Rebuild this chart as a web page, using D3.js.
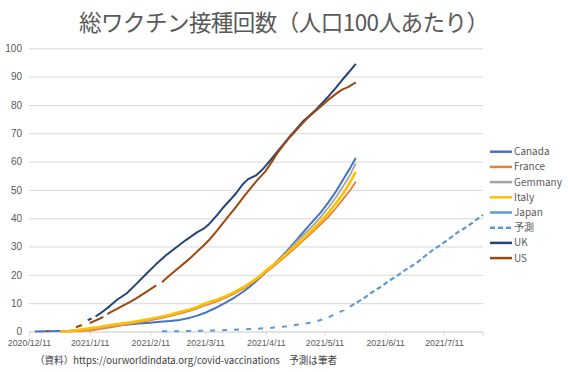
<!DOCTYPE html>
<html><head><meta charset="utf-8">
<script src="https://cdn.jsdelivr.net/npm/d3@7"></script>
<style>
html,body{margin:0;padding:0;background:#fff;}
svg{display:block;font-family:"Noto Sans CJK JP","Noto Sans",sans-serif;}
</style></head>
<body><svg id="c" width="568" height="372"></svg>
<script>
const title = "総ワクチン接種回数（人口100人あたり）";
const source = "（資料）https://ourworldindata.org/covid-vaccinations　予測は筆者";
const yTicks = [0,10,20,30,40,50,60,70,80,90,100];
const xTicks = ["2020-12-11","2021-01-11","2021-02-11","2021-03-11","2021-04-11","2021-05-11","2021-06-11","2021-07-11"];
const seriesNames = ["Canada","France","Gemmany","Italy","Japan","予測","UK","US"];
const seriesColors = ["#4472C4","#ED7D31","#A5A5A5","#FFC000","#5B9BD5","#5B9BD5","#264478","#9E480E"];

const canada = [["2020-12-14",0.0],["2020-12-20",0.1],["2020-12-26",0.2],["2021-01-01",0.3],["2021-01-06",0.5],["2021-01-11",0.8],["2021-01-16",1.3],["2021-01-21",1.8],["2021-01-26",2.2],["2021-01-31",2.5],["2021-02-05",2.8],["2021-02-11",3.1],["2021-02-16",3.4],["2021-02-21",3.7],["2021-02-26",4.1],["2021-03-03",4.8],["2021-03-07",5.6],["2021-03-11",6.6],["2021-03-16",8.2],["2021-03-21",10.0],["2021-03-26",12.0],["2021-03-31",14.3],["2021-04-04",16.5],["2021-04-08",19.0],["2021-04-11",21.0],["2021-04-15",23.6],["2021-04-19",26.4],["2021-04-23",29.3],["2021-04-27",32.5],["2021-05-01",35.8],["2021-05-05",38.9],["2021-05-09",42.0],["2021-05-13",45.6],["2021-05-17",49.6],["2021-05-21",54.2],["2021-05-24",57.6],["2021-05-27",61.3]];
const france = [["2020-12-27",0.0],["2020-12-31",0.0],["2021-01-05",0.1],["2021-01-11",0.3],["2021-01-16",0.8],["2021-01-21",1.4],["2021-01-26",2.0],["2021-01-31",2.6],["2021-02-05",3.2],["2021-02-11",3.9],["2021-02-16",4.6],["2021-02-21",5.4],["2021-02-26",6.3],["2021-03-03",7.3],["2021-03-07",8.2],["2021-03-11",9.2],["2021-03-16",10.4],["2021-03-21",11.8],["2021-03-26",13.4],["2021-03-31",15.3],["2021-04-04",17.1],["2021-04-08",19.1],["2021-04-11",20.9],["2021-04-15",23.0],["2021-04-19",25.3],["2021-04-23",27.7],["2021-04-27",30.2],["2021-05-01",32.7],["2021-05-05",35.2],["2021-05-09",37.8],["2021-05-13",40.5],["2021-05-17",43.7],["2021-05-21",47.2],["2021-05-24",49.8],["2021-05-27",52.9]];
const germany = [["2020-12-27",0.0],["2020-12-31",0.2],["2021-01-05",0.4],["2021-01-11",0.8],["2021-01-16",1.3],["2021-01-21",1.8],["2021-01-26",2.3],["2021-01-31",2.8],["2021-02-05",3.4],["2021-02-11",4.2],["2021-02-16",4.9],["2021-02-21",5.7],["2021-02-26",6.6],["2021-03-03",7.6],["2021-03-07",8.5],["2021-03-11",9.5],["2021-03-16",10.7],["2021-03-21",12.1],["2021-03-26",13.7],["2021-03-31",15.6],["2021-04-04",17.3],["2021-04-08",19.5],["2021-04-11",21.3],["2021-04-15",23.7],["2021-04-19",26.2],["2021-04-23",28.9],["2021-04-27",31.9],["2021-05-01",34.6],["2021-05-05",37.3],["2021-05-09",40.4],["2021-05-13",43.8],["2021-05-17",47.6],["2021-05-21",51.8],["2021-05-24",55.2],["2021-05-27",59.4]];
const italy = [["2020-12-27",0.0],["2020-12-31",0.1],["2021-01-05",0.5],["2021-01-11",1.1],["2021-01-16",1.6],["2021-01-21",2.2],["2021-01-26",2.7],["2021-01-31",3.2],["2021-02-05",3.7],["2021-02-11",4.5],["2021-02-16",5.1],["2021-02-21",5.9],["2021-02-26",6.9],["2021-03-03",7.8],["2021-03-07",8.7],["2021-03-11",9.9],["2021-03-16",11.0],["2021-03-21",12.3],["2021-03-26",13.9],["2021-03-31",15.8],["2021-04-04",17.6],["2021-04-08",19.6],["2021-04-11",21.5],["2021-04-15",23.6],["2021-04-19",25.9],["2021-04-23",28.3],["2021-04-27",30.8],["2021-05-01",33.4],["2021-05-05",36.0],["2021-05-09",38.8],["2021-05-13",41.9],["2021-05-17",45.4],["2021-05-21",49.3],["2021-05-24",52.6],["2021-05-27",56.4]];
const japan = [["2021-02-17",0.1],["2021-02-24",0.1],["2021-03-03",0.2],["2021-03-10",0.3],["2021-03-17",0.4],["2021-03-24",0.6],["2021-03-31",0.8],["2021-04-07",1.0],["2021-04-14",1.3],["2021-04-21",1.8],["2021-04-28",2.5],["2021-05-05",3.2],["2021-05-12",4.7],["2021-05-17",6.2],["2021-05-21",7.6],["2021-05-24",8.8]];
const forecast = [["2021-05-24",8.8],["2021-05-27",10.0],["2021-05-31",11.7],["2021-06-04",13.7],["2021-06-09",15.9],["2021-06-13",17.9],["2021-06-18",20.1],["2021-06-22",22.0],["2021-06-27",24.2],["2021-07-01",26.4],["2021-07-05",28.6],["2021-07-10",30.9],["2021-07-14",32.9],["2021-07-18",35.0],["2021-07-23",37.1],["2021-07-27",39.1],["2021-07-31",41.2]];
const uk = [["2021-01-10",4.0],["2021-01-12",4.6],["2021-01-13",null],["2021-01-14",5.3],["2021-01-16",6.2],["2021-01-21",8.8],["2021-01-25",11.2],["2021-01-30",13.5],["2021-02-04",16.9],["2021-02-09",20.4],["2021-02-14",23.8],["2021-02-19",26.9],["2021-02-24",29.6],["2021-03-01",32.2],["2021-03-07",35.1],["2021-03-10",36.2],["2021-03-13",37.9],["2021-03-17",41.0],["2021-03-20",43.6],["2021-03-24",46.6],["2021-03-27",49.0],["2021-03-30",51.8],["2021-04-02",53.8],["2021-04-06",55.1],["2021-04-09",57.0],["2021-04-11",58.6],["2021-04-14",61.0],["2021-04-17",63.6],["2021-04-20",66.1],["2021-04-23",68.6],["2021-04-27",71.8],["2021-04-30",74.2],["2021-05-03",76.0],["2021-05-07",78.6],["2021-05-10",80.8],["2021-05-13",83.0],["2021-05-17",86.2],["2021-05-20",88.8],["2021-05-23",91.2],["2021-05-27",94.5]];
const us = [["2020-12-20",0.17],["2020-12-21",0.2],["2020-12-22",null],["2021-01-04",1.5],["2021-01-07",2.3],["2021-01-09",null],["2021-01-11",3.0],["2021-01-13",3.6],["2021-01-16",4.5],["2021-01-18",5.2],["2021-01-19",null],["2021-01-20",6.1],["2021-01-22",6.9],["2021-01-25",8.0],["2021-01-28",9.1],["2021-01-31",10.2],["2021-02-04",11.8],["2021-02-09",14.0],["2021-02-14",16.3],["2021-02-15",null],["2021-02-17",17.4],["2021-02-19",18.7],["2021-02-24",21.6],["2021-03-01",24.5],["2021-03-04",26.3],["2021-03-07",28.3],["2021-03-10",30.2],["2021-03-13",32.3],["2021-03-17",35.5],["2021-03-20",38.2],["2021-03-24",41.6],["2021-03-27",44.2],["2021-03-30",46.9],["2021-04-02",49.6],["2021-04-06",52.9],["2021-04-09",55.2],["2021-04-11",56.7],["2021-04-14",59.8],["2021-04-17",63.1],["2021-04-20",65.8],["2021-04-23",68.4],["2021-04-27",71.4],["2021-04-30",73.7],["2021-05-03",75.8],["2021-05-07",78.2],["2021-05-10",80.0],["2021-05-13",81.8],["2021-05-17",84.0],["2021-05-20",85.4],["2021-05-23",86.3],["2021-05-27",88.0]];

const seriesData = [canada, france, germany, italy, japan, forecast, uk, us];
const seriesDash = [null, null, null, null, "5,7", "5,3", null, null];
const seriesWidth = [2, 1.8, 1.8, 2.6, 2, 2.2, 2, 2];

const parse = d3.timeParse("%Y-%m-%d");
const svg = d3.select("#c");
const x = d3.scaleTime().domain([parse("2020-12-11"), parse("2021-07-31")]).range([29, 483]);
const y = d3.scaleLinear().domain([0, 100]).range([331.5, 48.3]);
const tickFont = "'Liberation Sans',Arial,sans-serif";

svg.append("text").attr("x", 284).attr("y", 31).attr("text-anchor", "middle")
  .attr("font-size", 22.5).attr("fill", "#595959")
  .attr("textLength", 410).attr("lengthAdjust", "spacing").text(title);

// grid + y labels
const gy = svg.append("g").attr("transform", "translate(29,0)")
  .call(d3.axisLeft(y).tickValues(yTicks).tickSize(-454).tickFormat(d3.format("d")));
gy.select(".domain").remove();
gy.selectAll(".tick line").attr("stroke", "#D9D9D9").attr("stroke-width", 1);
gy.selectAll(".tick text").attr("x", -7).attr("fill", "#595959").attr("font-size", 10)
  .attr("font-family", tickFont);

// x axis
const gx = svg.append("g").attr("transform", "translate(0,331.5)")
  .call(d3.axisBottom(x).tickValues(xTicks.map(parse)).tickSize(4).tickFormat(d3.timeFormat("%Y/%-m/%-d")));
gx.select(".domain").attr("stroke", "#D9D9D9");
gx.selectAll(".tick line").attr("stroke", "#D9D9D9");
gx.selectAll(".tick text").attr("y", 8).attr("fill", "#595959").attr("font-size", 8.8)
  .attr("font-family", tickFont);

// lines
const line = d3.line().defined(d => d[1] !== null)
  .x(d => x(parse(d[0]))).y(d => y(d[1]));
seriesData.forEach((s, i) => {
  svg.append("path").datum(s).attr("d", line).attr("fill", "none")
    .attr("stroke", seriesColors[i]).attr("stroke-width", seriesWidth[i])
    .attr("stroke-dasharray", seriesDash[i]).attr("stroke-linejoin", "round");
});

// legend
const lg = svg.append("g");
seriesNames.forEach((n, i) => {
  const yy = 151.7 + i * 15.2;
  lg.append("line").attr("x1", 490).attr("x2", 512).attr("y1", yy).attr("y2", yy)
    .attr("stroke", seriesColors[i]).attr("stroke-width", 2.5)
    .attr("stroke-dasharray", i === 5 ? "5,3" : null);
  lg.append("text").attr("x", 514).attr("y", yy).attr("dy", "0.35em")
    .attr("font-size", 10).attr("fill", "#595959").text(n);
});

svg.append("text").attr("x", 35).attr("y", 364).attr("font-size", 10)
  .attr("fill", "#404040").attr("textLength", 302).attr("lengthAdjust", "spacingAndGlyphs").text(source);
</script></body></html>
